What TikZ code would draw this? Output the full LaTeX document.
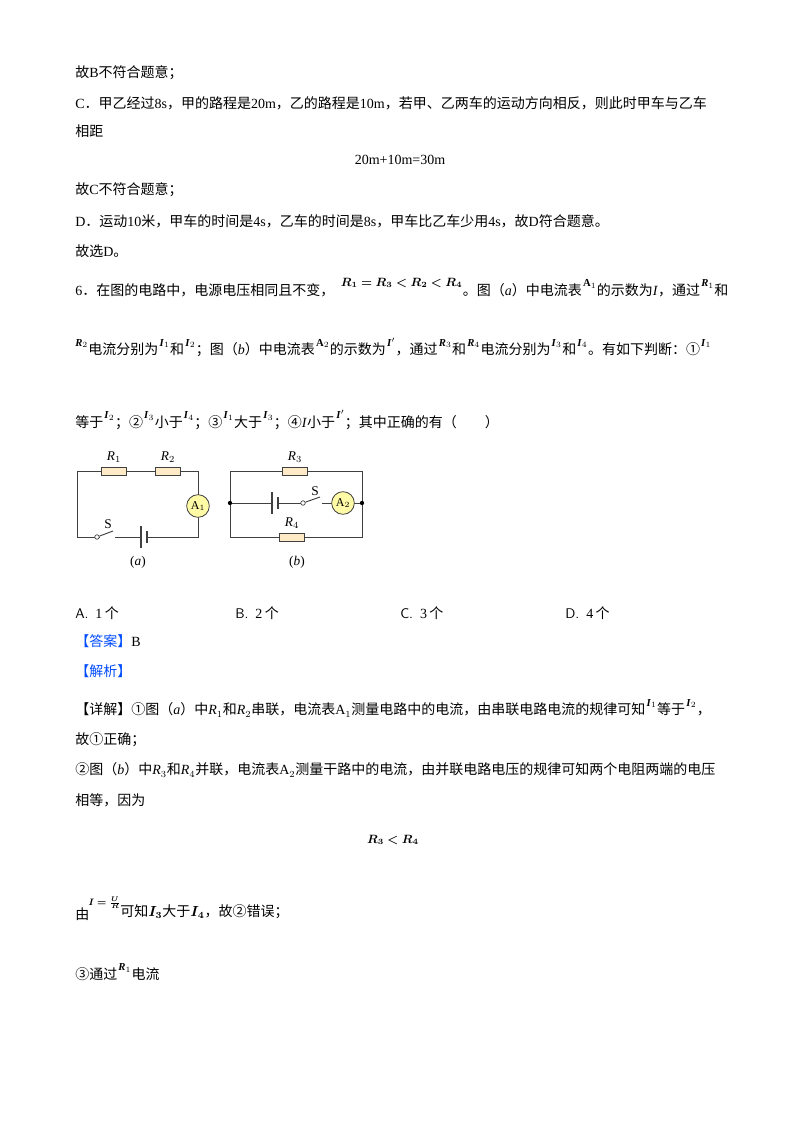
\documentclass[tikz,border=0pt]{standalone}
\usepackage{amsmath}
\usepackage{fontspec}
\usepackage{bm}
\usetikzlibrary{positioning}
\setmainfont{Liberation Serif}
\newfontfamily\cjk{Noto Sans CJK SC}
\begin{document}
\begin{tikzpicture}[x=0.75pt,y=-0.75pt,
  tx/.style={anchor=west,inner sep=0,font=\fontsize{10.5}{12}\selectfont},
  tn/.style={anchor=base west,inner sep=0,font=\fontsize{10.5}{12}\selectfont,yshift=-6.5pt},
  sp/.style={anchor=base west,inner sep=0,font=\fontsize{8}{9}\selectfont\bfseries,yshift=6.5pt,xshift=0.5pt},
  wire/.style={draw=black!75,line width=0.7pt},
  res/.style={draw=black!75,fill=yellow!25!orange!20,minimum width=19pt,minimum height=6pt,inner sep=0,line width=0.6pt},
  amm/.style={circle,draw=black!75,fill=yellow!35,minimum size=17pt,inner sep=0,font=\fontsize{9}{10}\selectfont,line width=0.6pt},
  lab/.style={inner sep=0,font=\fontsize{10}{11}\selectfont},
  sup/.style={inner sep=0,font=\fontsize{8}{9}\selectfont\bfseries}]
\useasboundingbox (0,0) rectangle (800,1132);
\fill[white] (0,0) rectangle (800,1132);
\node[tx] (l1) at (75,73) {{\cjk 故}B{\cjk 不符合题意；}};
\node[tx] (l2) at (75,103) {C{\cjk．甲乙经过}8s{\cjk，甲的路程是}20m{\cjk，乙的路程是}10m{\cjk，若甲、乙两车的运动方向相反，则此时甲车与乙车}};
\node[tx] (l3) at (75,131) {\cjk 相距};
\node[tx,anchor=center] (l4) at (400,160) {20m+10m=30m};
\node[tx] (l5) at (75,190) {{\cjk 故}C{\cjk 不符合题意；}};
\node[tx] (l6) at (75,221) {D{\cjk．运动}10{\cjk 米，甲车的时间是}4s{\cjk，乙车的时间是}8s{\cjk，甲车比乙车少用}4s{\cjk，故}D{\cjk 符合题意。}};
\node[tx] (l7) at (75,251) {{\cjk 故选}D{\cjk。}};
% question line 1
\node[tx] (q1) at (75,290) {6{\cjk．在图的电路中，电源电压相同且不变，}};
\node[sp,xshift=4pt,font=\fontsize{9}{10}\selectfont] (q1f) at (q1.base east) {$\bm{R_1=R_3<R_2<R_4}$};
\node[tn] (q1b) at (q1f.base east) {{\cjk 。图（}\textit{a}{\cjk）中电流表}};
\node[sp] (a1) at (q1b.base east) {A$_1$};
\node[tn] (q1c) at (a1.base east) {{\cjk 的示数为}\textit{I}{\cjk，通过}};
\node[sp] (r1) at (q1c.base east) {\textit{R}$_1$};
\node[tn] (q1d) at (r1.base east) {\cjk 和};
% line 2
\node[sup,anchor=base west] (r2) at (75,346) {\textit{R}$_2$};
\node[tn] (q2) at (r2.base east) {\cjk 电流分别为};
\node[sp] (i1) at (q2.base east) {\textit{I}$_1$};
\node[tn] (q2a) at (i1.base east) {\cjk 和};
\node[sp] (i2) at (q2a.base east) {\textit{I}$_2$};
\node[tn] (q2b) at (i2.base east) {{\cjk ；图（}\textit{b}{\cjk）中电流表}};
\node[sp] (a2) at (q2b.base east) {A$_2$};
\node[tn] (q2c) at (a2.base east) {\cjk 的示数为};
\node[sp] (ip) at (q2c.base east) {\textit{I}$'$};
\node[tn] (q2d) at (ip.base east) {\cjk ，通过};
\node[sp] (r3) at (q2d.base east) {\textit{R}$_3$};
\node[tn] (q2e) at (r3.base east) {\cjk 和};
\node[sp] (r4) at (q2e.base east) {\textit{R}$_4$};
\node[tn] (q2f) at (r4.base east) {\cjk 电流分别为};
\node[sp] (i3) at (q2f.base east) {\textit{I}$_3$};
\node[tn] (q2g) at (i3.base east) {\cjk 和};
\node[sp] (i4) at (q2g.base east) {\textit{I}$_4$};
\node[tn] (q2h) at (i4.base east) {\cjk 。有如下判断：①};
\node[sp] (i1b) at (q2h.base east) {\textit{I}$_1$};
% line 3
\node[tx] (q3) at (75,422) {\cjk 等于};
\node[sp] (i2b) at (q3.base east) {\textit{I}$_2$};
\node[tn] (q3a) at (i2b.base east) {\cjk ；②};
\node[sp] (i3b) at (q3a.base east) {\textit{I}$_3$};
\node[tn] (q3b) at (i3b.base east) {\cjk 小于};
\node[sp] (i4b) at (q3b.base east) {\textit{I}$_4$};
\node[tn] (q3c) at (i4b.base east) {\cjk ；③};
\node[sp] (i1c) at (q3c.base east) {\textit{I}$_1$};
\node[tn] (q3d) at (i1c.base east) {\cjk 大于};
\node[sp] (i3c) at (q3d.base east) {\textit{I}$_3$};
\node[tn] (q3e) at (i3c.base east) {{\cjk ；④}\textit{I}{\cjk 小于}};
\node[sp] (ipb) at (q3e.base east) {\textit{I}$'$};
\node[tn] (q3f) at (ipb.base east) {\cjk ；其中正确的有（\quad\quad）};
% circuit a
\coordinate (aTL) at (77,471); \coordinate (aTR) at (198,471);
\coordinate (aBL) at (77,537); \coordinate (aBR) at (198,537);
\draw[wire] (aTL) -- (aTR) -- (aBR) -- (aBL) -- cycle;
\node[res] (R1) at (114,471) {}; \node[lab,above=3pt of R1] (R1l) {\textit{R}$_1$};
\node[res] (R2) at (168,471) {}; \node[lab,above=3pt of R2] (R2l) {\textit{R}$_2$};
\node[amm] (A1) at (198,506) {A$_1$};
\fill[white] (100,533) rectangle (115,540);
\fill[white] (140,530) rectangle (148,544);
\node[circle,draw=black!75,fill=white,inner sep=1.2pt,line width=0.5pt] (sa) at (97,537) {};
\draw[wire] (sa) -- (113,531);
\node[lab] (Sa) at (108,524) {S};
\draw[black!75,line width=0.8pt] (141,526) -- (141,548);
\draw[black!75,line width=1.4pt] (147,531) -- (147,543);
\node[lab] (la) at (138,562) {(\textit{a})};
% circuit b
\coordinate (bTL) at (230,471); \coordinate (bTR) at (362,471);
\coordinate (bBL) at (230,537); \coordinate (bBR) at (362,537);
\coordinate (bML) at (230,503); \coordinate (bMR) at (362,503);
\draw[wire] (bTL) -- (bTR) -- (bBR) -- (bBL) -- cycle;
\draw[wire] (bML) -- (bMR);
\fill[black] (bML) circle (1.6pt); \fill[black] (bMR) circle (1.6pt);
\node[res] (R3) at (295,471) {}; \node[lab,above=3pt of R3] (R3l) {\textit{R}$_3$};
\node[res] (R4) at (292,537) {}; \node[lab,above=3pt of R4] (R4l) {\textit{R}$_4$};
\fill[white] (271,496) rectangle (278,510);
\draw[black!75,line width=0.8pt] (272,492) -- (272,514);
\draw[black!75,line width=1.4pt] (278,497) -- (278,509);
\fill[white] (305,499) rectangle (322,506);
\node[circle,draw=black!75,fill=white,inner sep=1.2pt,line width=0.5pt] (sb) at (303,503) {};
\draw[wire] (sb) -- (320,497);
\node[lab] (Sb) at (315,491) {S};
\node[amm] (A2) at (343,503) {A$_2$};
\node[lab] (lb) at (297,562) {(\textit{b})};
% options
\node[tx] (oA) at (75,613) {{\sffamily A.}\ \ 1\,{\cjk 个}};
\node[tx] (oB) at (235,613) {{\sffamily B.}\ \ 2\,{\cjk 个}};
\node[tx] (oC) at (400,613) {{\sffamily C.}\ \ 3\,{\cjk 个}};
\node[tx] (oD) at (565,613) {{\sffamily D.}\ \ 4\,{\cjk 个}};
\node[tx] (ans) at (75,641) {{\cjk\color{blue!70!cyan}【答案】}B};
\node[tx] (jx) at (75,671) {{\cjk\color{blue!70!cyan}【解析】}};
\node[tx] (d1) at (75,710) {{\cjk 【详解】①图（}\textit{a}{\cjk）中}\textit{R}$_1${\cjk 和}\textit{R}$_2${\cjk 串联，电流表}A$_1${\cjk 测量电路中的电流，由串联电路电流的规律可知}};
\node[sp] (i1d) at (d1.base east) {\textit{I}$_1$};
\node[tn] (d1a) at (i1d.base east) {\cjk 等于};
\node[sp] (i2d) at (d1a.base east) {\textit{I}$_2$};
\node[tn] (d1b) at (i2d.base east) {\cjk ，};
\node[tx] (d2) at (75,740) {\cjk 故①正确；};
\node[tx] (d3) at (75,770) {{\cjk ②图（}\textit{b}{\cjk）中}\textit{R}$_3${\cjk 和}\textit{R}$_4${\cjk 并联，电流表}A$_2${\cjk 测量干路中的电流，由并联电路电压的规律可知两个电阻两端的电压}};
\node[tx] (d4) at (75,800) {\cjk 相等，因为};
\node[tx,anchor=center,font=\fontsize{9}{10}\selectfont] (d5) at (393,840) {$\bm{R_3<R_4}$};
\node[tx] (d6) at (75,914) {\cjk 由};
\node[sup,anchor=west,font=\fontsize{7}{8}\selectfont] (fr) at (88,903) {$\bm{I=\frac{U}{R}}$};
\node[tx] (d6a) at (120,912) {{\cjk 可知}$\bm{I_3}${\cjk 大于}$\bm{I_4}${\cjk ，故②错误；}};
\node[tx] (d7) at (75,974) {\cjk ③通过};
\node[sp] (r1b) at (d7.base east) {\textit{R}$_1$};
\node[tn] (d7a) at (r1b.base east) {\cjk 电流};
\end{tikzpicture}
\end{document}
